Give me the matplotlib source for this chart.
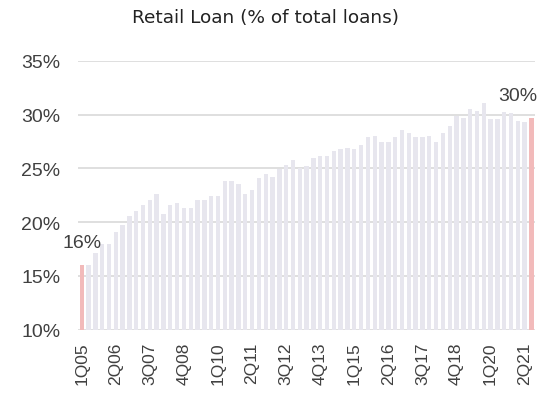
import numpy as np
import matplotlib
matplotlib.use('Agg')
import matplotlib.pyplot as plt

# quarterly retail loan share, 1Q05 .. 3Q21
quarters = [f"{q}Q{yr % 100:02d}" for yr in range(2005, 2022) for q in range(1, 5)][:67]
retail_share = [
    16.0, 16.05, 17.1, 18.0, 18.0, 19.1, 19.7, 20.55, 21.0, 21.6,
    22.05, 22.65, 20.75, 21.6, 21.8, 21.3, 21.35, 22.1, 22.1, 22.4,
    22.4, 23.8, 23.8, 23.55, 22.6, 23.0, 24.1, 24.5, 24.15, 24.95,
    25.3, 25.8, 25.0, 25.25, 26.0, 26.15, 26.15, 26.6, 26.8, 26.9,
    26.8, 27.2, 27.9, 28.0, 27.45, 27.4, 27.95, 28.55, 28.3, 27.95,
    27.9, 28.0, 27.45, 28.3, 28.9, 29.85, 29.7, 30.5, 30.35, 31.05,
    29.6, 29.6, 30.25, 30.15, 29.4, 29.3, 29.7,
]
highlight = [0, len(retail_share) - 1]
label_step = 5

bar_grey = '#e7e6ee'
bar_pink = '#f2baba'
grid_grey = '#d9d9d9'
text_col = '#404040'

fig = plt.figure(figsize=(5.49, 4.06), dpi=100)
ax = fig.add_axes([0.1426, 0.1855, 0.8317, 0.6625])

x = np.arange(len(retail_share))
colors = [bar_pink if i in highlight else bar_grey for i in x]
ax.bar(x, retail_share, width=0.64, color=colors, bottom=0, zorder=2)

ax.set_ylim(10, 35)
ax.set_xlim(-0.5, len(retail_share) - 0.5)
ax.set_yticks(np.arange(10, 36, 5))
ax.set_yticklabels([f"{v}%" for v in range(10, 36, 5)], fontsize=14,
                   color=text_col, family=['Liberation Sans', 'DejaVu Sans'])
ax.yaxis.grid(True, color=grid_grey, linewidth=1.2, zorder=1)
ax.set_axisbelow(True)

ticks = x[::label_step]
ax.set_xticks(ticks)
ax.set_xticklabels([quarters[i] for i in ticks], rotation=90, fontsize=12.5,
                   color=text_col,
                   family=['Liberation Sans Narrow', 'Liberation Sans', 'DejaVu Sans'])
ax.tick_params(axis='both', length=0)
ax.tick_params(axis='y', pad=13)
ax.tick_params(axis='x', pad=8.5)

for s in ax.spines.values():
    s.set_visible(False)

# value labels on the first and latest quarter
first, last = highlight
ax.annotate(f"{retail_share[first]:.0f}%", xy=(first, retail_share[first]),
            xytext=(0, 13), textcoords='offset points', ha='center',
            va='baseline', fontsize=14, color=text_col,
            family=['Liberation Sans', 'DejaVu Sans'])
ax.annotate(f"{retail_share[last]:.0f}%", xy=(last, retail_share[last]),
            xytext=(4.5, 13), textcoords='offset points', ha='right',
            va='baseline', fontsize=14, color=text_col,
            family=['Liberation Sans', 'DejaVu Sans'], annotation_clip=False)

fig.text(0.4836, 1 - 18 / 406, 'Retail Loan (% of total loans)', ha='center',
         va='center', fontsize=13.3, color='#222222')

fig.savefig('out.png', dpi=100)
